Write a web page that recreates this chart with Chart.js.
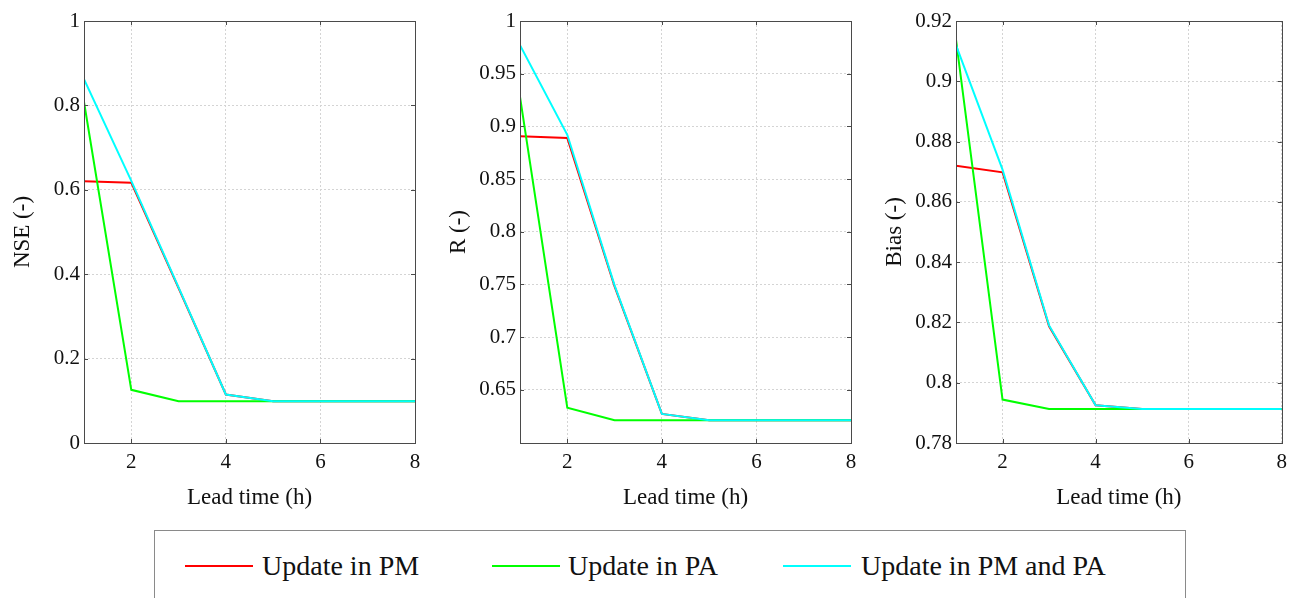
<!DOCTYPE html>
<html>
<head>
<meta charset="utf-8">
<script src="https://cdn.jsdelivr.net/npm/chart.js@4.4.0/dist/chart.umd.min.js"></script>
<style>
  body { margin: 0; background: #fff; width: 1294px; height: 598px; overflow: hidden; position: relative; }
  .panel { position: absolute; top: 0; height: 520px; }
  #legend { position: absolute; left: 154px; top: 530px; width: 1032px; height: 90px; border: 1px solid #8a8a8a; box-sizing: border-box; }
  .lg-line { position: absolute; top: 34px; height: 2px; width: 68px; }
  .lg-text { position: absolute; top: 18px; font-family: 'Liberation Serif', serif; font-size: 28px; line-height: 34px; color: #111; white-space: nowrap; }
</style>
</head>
<body>
<div class="panel" style="left:0;width:430px"><canvas id="nse-chart"></canvas></div>
<div class="panel" style="left:436px;width:430px"><canvas id="r-chart"></canvas></div>
<div class="panel" style="left:872px;width:422px"><canvas id="bias-chart"></canvas></div>
<div id="legend"></div>
<script>
/* Lead time skill plots: NSE, R and Bias for three update schemes */

const leadTimes = [1, 2, 3, 4, 5, 6, 7, 8];
const xTicks = [2, 4, 6, 8];

const seriesNames = ['Update in PM', 'Update in PA', 'Update in PM and PA'];
const seriesColors = ['#ff0000', '#00ff00', '#00ffff'];

// NSE (-)
const nsePM   = [0.620, 0.617, 0.367, 0.115, 0.099, 0.099, 0.099, 0.099];
const nsePA   = [0.808, 0.126, 0.099, 0.099, 0.099, 0.099, 0.099, 0.099];
const nseBoth = [0.862, 0.621, 0.369, 0.115, 0.099, 0.099, 0.099, 0.099];
const nseTicks = [0, 0.2, 0.4, 0.6, 0.8, 1];

// R (-)
const rPM   = [0.8905, 0.889, 0.748, 0.627, 0.621, 0.621, 0.621, 0.621];
const rPA   = [0.928, 0.633, 0.621, 0.621, 0.621, 0.621, 0.621, 0.621];
const rBoth = [0.977, 0.892, 0.749, 0.627, 0.621, 0.621, 0.621, 0.621];
const rTicks = [0.65, 0.7, 0.75, 0.8, 0.85, 0.9, 0.95, 1];

// Bias (-)
const biasPM   = [0.872, 0.8698, 0.8187, 0.7925, 0.7913, 0.7913, 0.7913, 0.7913];
const biasPA   = [0.9138, 0.7944, 0.7913, 0.7913, 0.7913, 0.7913, 0.7913, 0.7913];
const biasBoth = [0.912, 0.8707, 0.819, 0.7925, 0.7913, 0.7913, 0.7913, 0.7913];
const biasTicks = [0.78, 0.8, 0.82, 0.84, 0.86, 0.88, 0.9, 0.92];

const FONT = "'Liberation Serif', serif";
const BOX_COLOR = '#4a4a4a';

// MATLAB-style box with inward ticks on all four sides
const boxPlugin = {
  id: 'box',
  afterDraw(chart) {
    const { ctx, chartArea: a, scales } = chart;
    ctx.save();
    ctx.strokeStyle = BOX_COLOR;
    ctx.lineWidth = 1;
    ctx.beginPath();
    const len = 4;
    scales.x.ticks.forEach(t => {
      const px = Math.round(scales.x.getPixelForValue(t.value)) + 0.5;
      ctx.moveTo(px, a.bottom); ctx.lineTo(px, a.bottom - len);
      ctx.moveTo(px, a.top); ctx.lineTo(px, a.top + len);
    });
    scales.y.ticks.forEach(t => {
      const py = Math.round(scales.y.getPixelForValue(t.value)) + 0.5;
      ctx.moveTo(a.left, py); ctx.lineTo(a.left + len, py);
      ctx.moveTo(a.right, py); ctx.lineTo(a.right - len, py);
    });
    ctx.stroke();
    ctx.strokeRect(Math.round(a.left) + 0.5, Math.round(a.top) + 0.5,
      Math.round(a.right - a.left), Math.round(a.bottom - a.top));
    ctx.restore();
  }
};

function makeChart(id, yTitle, series, yMin, yMax, yTicks, padRight) {
  const ctx = document.getElementById(id).getContext('2d');
  const datasets = series.map((vals, idx) => ({
    label: seriesNames[idx],
    data: leadTimes.map((t, i) => ({ x: t, y: vals[i] })),
    borderColor: seriesColors[idx],
    backgroundColor: seriesColors[idx],
    borderWidth: 2,
    pointRadius: 0,
    tension: 0,
    order: series.length - idx,
  }));

  return new Chart(ctx, {
    type: 'line',
    data: { datasets },
    plugins: [boxPlugin],
    options: {
      responsive: true,
      maintainAspectRatio: false,
      animation: false,
      layout: { padding: { top: 21, right: padRight, bottom: 0, left: 0 } },
      plugins: { legend: { display: false }, tooltip: { enabled: false } },
      scales: {
        x: {
          type: 'linear',
          min: 1,
          max: 8,
          afterBuildTicks: (scale) => { scale.ticks = xTicks.map(v => ({ value: v })); },
          afterFit: (scale) => { scale.height = 77; },
          grid: { color: '#d4d4d4', drawTicks: false },
          border: { display: false, dash: [2, 2] },
          ticks: {
            font: { family: FONT, size: 21 },
            color: '#111',
            padding: 7,
            maxRotation: 0,
            callback: (v) => String(v),
          },
          title: {
            display: true,
            text: 'Lead time (h)',
            font: { family: FONT, size: 23 },
            color: '#111',
            padding: { top: 0, bottom: 8 },
          },
        },
        y: {
          min: yMin,
          max: yMax,
          afterBuildTicks: (scale) => { scale.ticks = yTicks.map(v => ({ value: v })); },
          afterFit: (scale) => { scale.width = 84; },
          grid: { color: '#d4d4d4', drawTicks: false },
          border: { display: false, dash: [2, 2] },
          ticks: {
            font: { family: FONT, size: 21 },
            color: '#111',
            padding: 4,
            callback: (v) => String(+v.toFixed(2)),
          },
          title: {
            display: true,
            text: yTitle,
            font: { family: FONT, size: 23 },
            color: '#111',
            padding: { top: 9, bottom: 0 },
          },
        },
      },
    },
  });
}

makeChart('nse-chart', 'NSE (-)', [nsePM, nsePA, nseBoth], 0, 1, nseTicks, 15);
makeChart('r-chart', 'R (-)', [rPM, rPA, rBoth], 0.5994, 1, rTicks, 15);
makeChart('bias-chart', 'Bias (-)', [biasPM, biasPA, biasBoth], 0.78, 0.92, biasTicks, 6);

// Legend built from the series names and colours
const legendPos = [
  { line: 30, text: 107 },
  { line: 337, text: 413 },
  { line: 628, text: 706 },
];
const legend = document.getElementById('legend');
seriesNames.forEach((name, idx) => {
  const line = document.createElement('div');
  line.className = 'lg-line';
  line.style.left = legendPos[idx].line + 'px';
  line.style.background = seriesColors[idx];
  legend.appendChild(line);
  const txt = document.createElement('div');
  txt.className = 'lg-text';
  txt.style.left = legendPos[idx].text + 'px';
  txt.textContent = name;
  legend.appendChild(txt);
});
</script>
</body>
</html>
